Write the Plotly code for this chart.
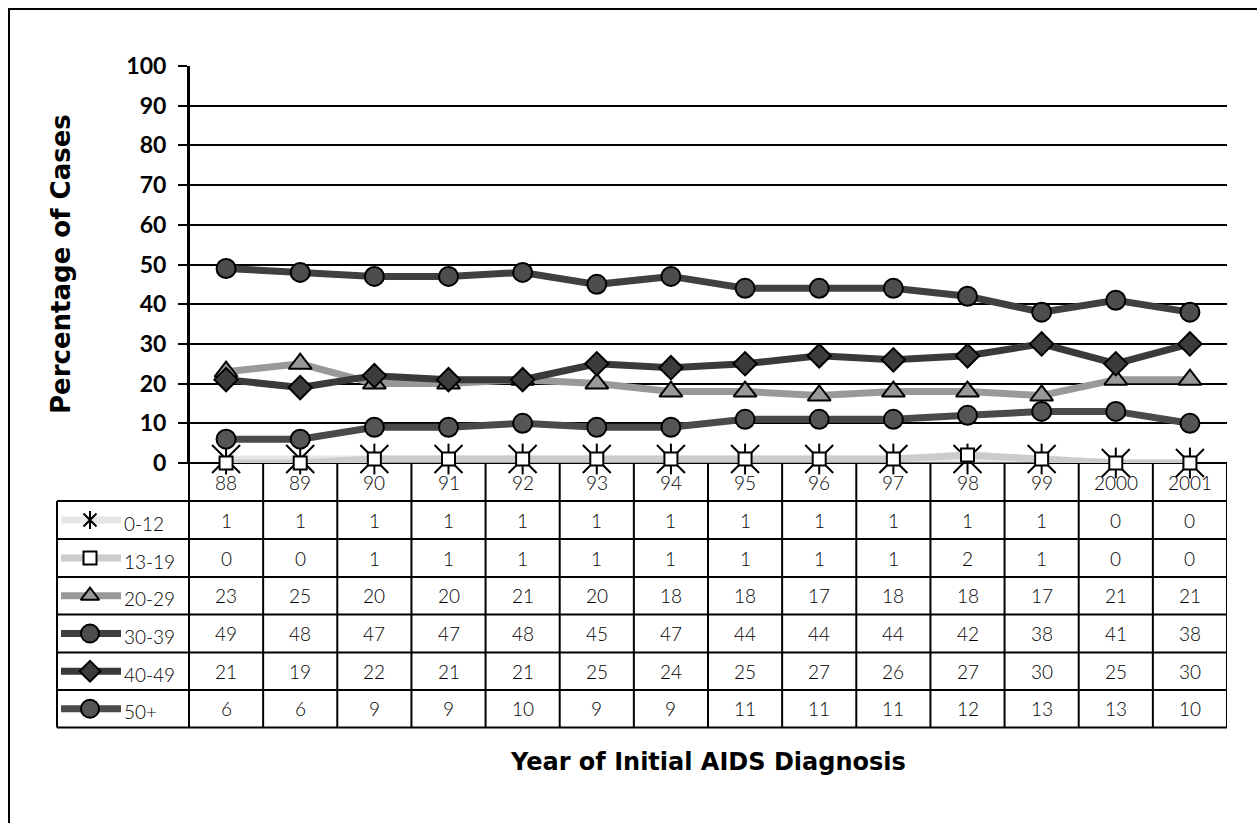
import plotly.graph_objects as go

# ---- data ----
years = ["88", "89", "90", "91", "92", "93", "94", "95", "96", "97", "98", "99", "2000", "2001"]
age_groups = ["0-12", "13-19", "20-29", "30-39", "40-49", "50+"]

pct_0_12 = [1, 1, 1, 1, 1, 1, 1, 1, 1, 1, 1, 1, 0, 0]
pct_13_19 = [0, 0, 1, 1, 1, 1, 1, 1, 1, 1, 2, 1, 0, 0]
pct_20_29 = [23, 25, 20, 20, 21, 20, 18, 18, 17, 18, 18, 17, 21, 21]
pct_30_39 = [49, 48, 47, 47, 48, 45, 47, 44, 44, 44, 42, 38, 41, 38]
pct_40_49 = [21, 19, 22, 21, 21, 25, 24, 25, 27, 26, 27, 30, 25, 30]
pct_50_plus = [6, 6, 9, 9, 10, 9, 9, 11, 11, 11, 12, 13, 13, 10]

y_ticks = [0, 10, 20, 30, 40, 50, 60, 70, 80, 90, 100]

series = [pct_0_12, pct_13_19, pct_20_29, pct_30_39, pct_40_49, pct_50_plus]

# ---- styling ----
W, H = 1257, 823
PLOT_L, PLOT_R, PLOT_T, PLOT_B = 189, 1227, 66, 463
TABLE_L = 57
ROW_EDGES = [501, 539, 577, 614.5, 652.5, 690, 727.5]

line_colors = ["#e6e6e6", "#cccccc", "#999999", "#404040", "#3a3a3a", "#4a4a4a"]
marker_symbols = ["x-thin-open", "square", "triangle-up", "circle", "diamond", "circle"]
marker_fills = ["black", "white", "#999999", "#4d4d4d", "#3c3c3c", "#555555"]
marker_sizes = [28, 13, 20, 19, 18, 19]
legend_marker_sizes = [13, 13, 16, 18, 16, 18]

TICK_FONT = "Lato"
TITLE_FONT = "DejaVu Sans"
CELL_FONT = "Lato"


def px_x(v):
    return v / W


def px_y(v):
    return 1 - v / H


fig = go.Figure()

for i, (name, vals) in enumerate(zip(age_groups, series)):
    open_sym = marker_symbols[i].endswith("-open")
    mk = dict(symbol=marker_symbols[i], size=marker_sizes[i],
              color="black" if open_sym else marker_fills[i],
              line=dict(color="black", width=2))
    fig.add_trace(go.Scatter(
        x=years, y=vals, name=name, mode="lines+markers",
        line=dict(color=line_colors[i], width=7),
        marker=mk, cliponaxis=False, showlegend=False,
        xaxis="x", yaxis="y",
    ))
    if i == 0:
        # vertical stroke completes the star marker
        fig.add_trace(go.Scatter(
            x=years, y=vals, mode="markers",
            marker=dict(symbol="line-ns-open", size=22, color="black",
                        line=dict(color="black", width=2)),
            cliponaxis=False, showlegend=False, hoverinfo="skip",
            xaxis="x", yaxis="y",
        ))

# ---- legend keys inside the data table (pixel-space subplot) ----
for i, name in enumerate(age_groups):
    yc = (ROW_EDGES[i] + ROW_EDGES[i + 1]) / 2
    fig.add_trace(go.Scatter(
        x=[61, 121], y=[yc, yc], mode="lines",
        line=dict(color=line_colors[i], width=7),
        showlegend=False, hoverinfo="skip", xaxis="x2", yaxis="y2",
    ))
    open_sym = marker_symbols[i].endswith("-open")
    fig.add_trace(go.Scatter(
        x=[90], y=[yc], mode="markers",
        marker=dict(symbol=marker_symbols[i], size=legend_marker_sizes[i],
                    color="black" if open_sym else marker_fills[i],
                    line=dict(color="black", width=2)),
        showlegend=False, hoverinfo="skip", xaxis="x2", yaxis="y2",
    ))
    if i == 0:
        fig.add_trace(go.Scatter(
            x=[90], y=[yc], mode="markers",
            marker=dict(symbol="line-ns-open", size=13, color="black",
                        line=dict(color="black", width=2)),
            showlegend=False, hoverinfo="skip", xaxis="x2", yaxis="y2",
        ))

shapes = []
LW = 2
# outer frame
shapes.append(dict(type="rect", xref="paper", yref="paper",
                   x0=px_x(9), x1=px_x(W + 20), y0=px_y(9), y1=px_y(H + 20),
                   line=dict(color="black", width=2), layer="below"))
# y axis line continued through the table
shapes.append(dict(type="line", xref="paper", yref="paper",
                   x0=px_x(PLOT_L), x1=px_x(PLOT_L), y0=px_y(PLOT_T), y1=px_y(ROW_EDGES[-1]),
                   line=dict(color="black", width=LW), layer="below"))
# horizontal table rules
for e in ROW_EDGES:
    shapes.append(dict(type="line", xref="paper", yref="paper",
                       x0=px_x(TABLE_L), x1=px_x(PLOT_R), y0=px_y(e), y1=px_y(e),
                       line=dict(color="black", width=LW), layer="below"))
# left edge of the legend column
shapes.append(dict(type="line", xref="paper", yref="paper",
                   x0=px_x(TABLE_L), x1=px_x(TABLE_L), y0=px_y(ROW_EDGES[0]), y1=px_y(ROW_EDGES[-1]),
                   line=dict(color="black", width=LW), layer="below"))
# column separators
for k in range(len(years) + 1):
    shapes.append(dict(type="line", xref="x", yref="paper",
                       x0=k - 0.5, x1=k - 0.5, y0=px_y(PLOT_B), y1=px_y(ROW_EDGES[-1]),
                       line=dict(color="black", width=LW), layer="below"))
# zero line
shapes.append(dict(type="line", xref="paper", yref="paper",
                   x0=px_x(180), x1=px_x(PLOT_R), y0=px_y(PLOT_B), y1=px_y(PLOT_B),
                   line=dict(color="black", width=LW), layer="below"))

annotations = []
# year labels in the header row (category index positions)
for k, yr in enumerate(years):
    annotations.append(dict(x=k, xref="x", y=px_y(482), yref="paper", text=yr,
                            showarrow=False, xanchor="center", yanchor="middle",
                            font=dict(family=CELL_FONT, size=19, color="black", weight=300)))
# table values and row labels
for i, (name, vals) in enumerate(zip(age_groups, series)):
    yc = (ROW_EDGES[i] + ROW_EDGES[i + 1]) / 2
    annotations.append(dict(x=px_x(122), xref="paper", y=px_y(yc + 3), yref="paper", text=name,
                            showarrow=False, xanchor="left", yanchor="middle",
                            font=dict(family=CELL_FONT, size=19, color="black", weight=300)))
    for k, v in enumerate(vals):
        annotations.append(dict(x=k, xref="x", y=px_y(yc), yref="paper", text=str(v),
                                showarrow=False, xanchor="center", yanchor="middle",
                                font=dict(family=CELL_FONT, size=19, color="black", weight=300)))
# axis titles
annotations.append(dict(x=px_x(708), xref="paper", y=px_y(762), yref="paper",
                        text="Year of Initial AIDS Diagnosis", showarrow=False,
                        xanchor="center", yanchor="middle",
                        font=dict(family=TITLE_FONT, size=24, color="black", weight="bold")))
annotations.append(dict(x=px_x(61), xref="paper", y=px_y(264), yref="paper",
                        text="Percentage of Cases", showarrow=False, textangle=-90,
                        xanchor="center", yanchor="middle",
                        font=dict(family=TITLE_FONT, size=26, color="black", weight="bold")))

fig.update_layout(
    width=W, height=H,
    margin=dict(l=0, r=0, t=0, b=0, autoexpand=False),
    paper_bgcolor="white",
    plot_bgcolor="rgba(0,0,0,0)",
    showlegend=False,
    xaxis=dict(domain=[px_x(PLOT_L), px_x(PLOT_R)], type="category",
               categoryorder="array", categoryarray=years,
               range=[-0.5, len(years) - 0.5], showgrid=False, zeroline=False,
               showline=False, showticklabels=False, ticks="", fixedrange=True,
               automargin=False),
    yaxis=dict(domain=[px_y(PLOT_B), px_y(PLOT_T)], range=[0, 100],
               tickvals=y_ticks, ticktext=[str(t) for t in y_ticks],
               showgrid=True, gridcolor="black", gridwidth=2,
               zeroline=False, showline=True, linecolor="black", linewidth=2,
               ticks="outside", ticklen=9, tickwidth=2, tickcolor="black",
               ticklabelstandoff=7, automargin=False,
               tickfont=dict(family=TICK_FONT, size=23, color="black", weight="bold"),
               fixedrange=True),
    xaxis2=dict(domain=[0, 1], range=[0, W], visible=False, anchor="y2",
                fixedrange=True, automargin=False),
    yaxis2=dict(domain=[0, 1], range=[H, 0], visible=False, anchor="x2",
                fixedrange=True, automargin=False),
    shapes=shapes,
    annotations=annotations,
)

fig.write_html("out.html")
